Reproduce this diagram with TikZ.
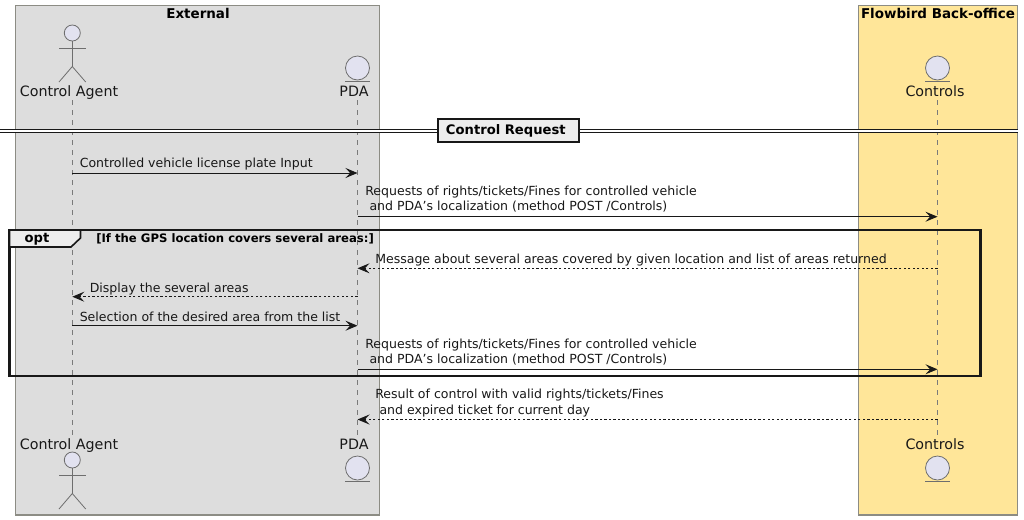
\documentclass[tikz,border=0pt]{standalone}
\usepackage{fontspec}
\setmainfont{DejaVu Sans}
\usetikzlibrary{arrows.meta}
\definecolor{lifegray}{HTML}{7A7A7A}
\definecolor{partfill}{HTML}{E2E2F0}
\definecolor{partline}{HTML}{6E6E6E}
\definecolor{extfill}{HTML}{DDDDDD}
\definecolor{backfill}{HTML}{FFE699}
\definecolor{boxline}{HTML}{8C8C84}
\definecolor{inkdark}{HTML}{181818}
\tikzset{
teambox/.style={draw=boxline, line width=0.8pt},
teamtitle/.style={inner sep=0pt, font=\fontsize{10.1}{11}\bfseries\selectfont},
partname/.style={anchor=base, inner sep=0pt, font=\fontsize{10.7}{12}\selectfont, text=inkdark},
actorhead/.style={circle, draw=partline, fill=partfill, line width=0.6pt, minimum size=12pt, inner sep=0pt},
entityhead/.style={circle, draw=partline, fill=partfill, line width=0.6pt, minimum size=18pt, inner sep=0pt},
partstroke/.style={draw=partline, line width=0.6pt},
lifeline/.style={draw=lifegray, line width=0.6pt, dash pattern=on 3.75pt off 3.75pt},
msg/.style={draw=inkdark, line width=0.75pt, -{Stealth[length=9pt, width=7.5pt, inset=3.5pt]}},
reply/.style={msg, dash pattern=on 1.7pt off 1.7pt},
msgtext/.style={anchor=west, inner sep=0pt, align=left, font=\fontsize{9.4}{11.3}\selectfont, text=inkdark},
boldtext/.style={inner sep=0pt, font=\fontsize{9.85}{11}\bfseries\selectfont},
}
\begin{document}
\begin{tikzpicture}[x=0.75pt, y=-0.75pt]
    \useasboundingbox (0,0) rectangle (1024,519);
    % team boxes
    \draw[teambox, fill=extfill] (15.5,5.5) rectangle (379.5,515);
    \draw[teambox, fill=backfill] (858.5,5.5) rectangle (1017.5,515);
    \node[teamtitle] (externalTitle) at (198,13) {External};
    \node[teamtitle] (backTitle) at (938,13) {Flowbird Back-office};
    % lifelines
    \coordinate (agentTop) at (72.3,100);
    \coordinate (agentBot) at (72.3,437);
    \coordinate (pdaTop) at (357.5,100);
    \coordinate (pdaBot) at (357.5,437);
    \coordinate (controlsTop) at (937.5,100);
    \coordinate (controlsBot) at (937.5,437);
    \draw[lifeline] (agentTop) -- (agentBot);
    \draw[lifeline] (pdaTop) -- (pdaBot);
    \draw[lifeline] (controlsTop) -- (controlsBot);
    % participants
    \foreach \nm/\yh/\yt in {agentA/33/96.5, agentB/460/449}{
      \node[actorhead] (\nm Head) at (72.3,\yh) {};
      \coordinate (\nm Hip) at (72.3,\yh+33.5);
      \coordinate (\nm ArmL) at (59,\yh+15);
      \coordinate (\nm ArmR) at (85.7,\yh+15);
      \coordinate (\nm LegL) at (59,\yh+49);
      \coordinate (\nm LegR) at (85.7,\yh+49);
      \draw[partstroke] (\nm Head) -- (\nm Hip);
      \draw[partstroke] (\nm ArmL) -- (\nm ArmR);
      \draw[partstroke] (\nm LegL) -- (\nm Hip) -- (\nm LegR);
      \node[partname] (\nm Name) at (69,\yt) {Control Agent};
    }
    \foreach \nm/\x/\tx/\txt/\yh/\yt in {pdaA/357.5/354/PDA/68/96.5, pdaB/357.5/354/PDA/468/449, controlsA/937.5/935/Controls/68/96.5, controlsB/937.5/935/Controls/468/449}{
      \node[entityhead] (\nm Head) at (\x,\yh) {};
      \coordinate (\nm UL) at (\x-12.5,\yh+13);
      \coordinate (\nm UR) at (\x+12.5,\yh+13);
      \draw[partstroke] (\nm UL) -- (\nm UR);
      \node[partname] (\nm Name) at (\tx,\yt) {\txt};
    }
    % divider
    \coordinate (divL) at (0,131);
    \coordinate (divR) at (1018,131);
    \draw[draw=inkdark, double=white, double distance=1.6pt, line width=0.9pt] (divL) -- (divR);
    \node[draw=inkdark, fill=black!7, line width=1.5pt, minimum width=106pt, minimum height=17pt, inner sep=0pt, boldtext] (divider) at (508.8,130.5) {\hspace{-4.5pt}Control Request};
    % messages
    \foreach \n/\y in {1/173, 2/216.7, 3/268.3, 4/296.7, 5/325.7, 6/369.3, 7/419.5}{
      \coordinate (agent\n) at (72.3,\y);
      \coordinate (pda\n) at (357.5,\y);
      \coordinate (controls\n) at (937.5,\y);
    }
    \draw[msg] (agent1) -- (pda1);
    \node[msgtext] (msgA) at (79.5,164) {Controlled vehicle license plate Input};
    \draw[msg] (pda2) -- (controls2);
    \node[msgtext] (msgB) at (365,199) {Requests of rights/tickets/Fines for controlled vehicle\\\hspace{3.2pt}and PDA’s localization (method POST /Controls)};
    \draw[reply] (controls3) -- (pda3);
    \node[msgtext] (msgC) at (375,260) {Message about several areas covered by given location and list of areas returned};
    \draw[reply] (pda4) -- (agent4);
    \node[msgtext] (msgD) at (89.5,289) {Display the several areas};
    \draw[msg] (agent5) -- (pda5);
    \node[msgtext] (msgE) at (79.5,317) {Selection of the desired area from the list};
    \draw[msg] (pda6) -- (controls6);
    \node[msgtext] (msgF) at (365,352) {Requests of rights/tickets/Fines for controlled vehicle\\\hspace{3.2pt}and PDA’s localization (method POST /Controls)};
    \draw[reply] (controls7) -- (pda7);
    \node[msgtext] (msgG) at (375,403) {Result of control with valid rights/tickets/Fines\\\hspace{3.2pt}and expired ticket for current day};
    % opt frame
    \draw[draw=inkdark, line width=1.6pt] (9.5,230) rectangle (980.5,376);
    \draw[draw=inkdark, fill=black!7, line width=1.2pt] (9.5,230) -- (80.5,230) -- (80.5,238) -- (71,247) -- (9.5,247) -- cycle;
    \node[boldtext] (optLabel) at (37,239) {opt};
    \node[anchor=west, inner sep=0pt, font=\fontsize{8.75}{10}\bfseries\selectfont] (optGuard) at (96,239) {[If the GPS location covers several areas:]};
\end{tikzpicture}
\end{document}
